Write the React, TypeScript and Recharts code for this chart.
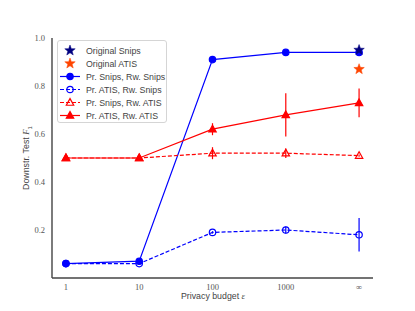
import { ComposedChart, Line, Scatter, XAxis, YAxis, ErrorBar } from 'recharts'

// categories on the x axis (privacy budget)
const xLabels = ['1', '10', '100', '1000', '∞']
const yTicks = [0.2, 0.4, 0.6, 0.8, 1.0]

// series values + symmetric error
const snipsSnips = [0.06, 0.07, 0.91, 0.94, 0.94]
const snipsSnipsErr = [0, 0.005, 0.01, 0.01, 0.015]
const atisSnips = [0.06, 0.06, 0.19, 0.2, 0.18]
const atisSnipsErr = [0, 0, 0.005, 0.015, 0.07]
const snipsAtis = [0.5, 0.5, 0.52, 0.52, 0.51]
const snipsAtisErr = [0, 0, 0.025, 0.02, 0.005]
const atisAtis = [0.5, 0.5, 0.62, 0.68, 0.73]
const atisAtisErr = [0, 0, 0.025, 0.09, 0.06]
const originalSnips = [0.95]
const originalAtis = [0.87]

const BLUE = '#0000ff'
const RED = '#ff0000'
const NAVY = '#000080'
const ORANGE = '#ff4500'

const toRows = (vals: number[], errs: number[]) => vals.map((y, i) => ({ x: i, y, err: errs[i] }))
const lastPoint = (vals: number[]) => vals.map((y) => ({ x: xLabels.length - 1, y }))

type Kind = 'circle' | 'ocircle' | 'tri' | 'otri' | 'star'

function Marker({ kind, color, cx, cy }: { kind: Kind; color: string; cx: number; cy: number }) {
  if (kind === 'circle' || kind === 'ocircle') {
    return (
      <circle cx={cx} cy={cy} r={3.2} fill={kind === 'circle' ? color : 'none'} stroke={color} strokeWidth={1.2} />
    )
  }
  if (kind === 'tri' || kind === 'otri') {
    const r = 3.9
    const pts = `${cx},${cy - r} ${cx - r * 0.95},${cy + r * 0.7} ${cx + r * 0.95},${cy + r * 0.7}`
    return <polygon points={pts} fill={kind === 'tri' ? color : 'none'} stroke={color} strokeWidth={1.2} />
  }
  const pts: string[] = []
  for (let i = 0; i < 10; i++) {
    const rad = i % 2 === 0 ? 5.5 : 2.3
    const a = -Math.PI / 2 + (i * Math.PI) / 5
    pts.push(`${cx + rad * Math.cos(a)},${cy + rad * Math.sin(a)}`)
  }
  return <polygon points={pts.join(' ')} fill={color} stroke={color} strokeWidth={0.5} />
}

const makeDot = (kind: Kind, color: string) => (p: any) =>
  <Marker key={`${kind}-${color}-${p.index}`} kind={kind} color={color} cx={p.cx} cy={p.cy} />

const legendItems: { label: string; kind: Kind; color: string; line: boolean; dash?: boolean }[] = [
  { label: 'Original Snips', kind: 'star', color: NAVY, line: false },
  { label: 'Original ATIS', kind: 'star', color: ORANGE, line: false },
  { label: 'Pr. Snips, Rw. Snips', kind: 'circle', color: BLUE, line: true },
  { label: 'Pr. ATIS, Rw. Snips', kind: 'ocircle', color: BLUE, line: true, dash: true },
  { label: 'Pr. Snips, Rw. ATIS', kind: 'otri', color: RED, line: true, dash: true },
  { label: 'Pr. ATIS, Rw. ATIS', kind: 'tri', color: RED, line: true },
]

const tickStyle = { fontSize: 8.5, fill: '#555', fontFamily: '"Liberation Serif", serif' }
const sans = '"Liberation Sans", Arial, sans-serif'

export default function App() {
  return (
    <div style={{ position: 'absolute', left: 0, top: 0, width: 415, height: 311, background: '#fff' }}>
      <ComposedChart width={415} height={311} margin={{ top: 38, right: 42, left: 12, bottom: 0 }}>
        <XAxis
          type="number"
          dataKey="x"
          domain={[-0.19, 4.19]}
          ticks={[0, 1, 2, 3, 4]}
          tickFormatter={(v: number) => xLabels[v]}
          allowDataOverflow
          height={33}
          tickSize={0}
          tickMargin={6}
          tick={tickStyle}
          axisLine={{ stroke: '#444', strokeWidth: 1.4 }}
          tickLine={false}
        />
        <YAxis
          type="number"
          domain={[0, 1]}
          ticks={yTicks}
          tickFormatter={(v: number) => v.toFixed(1)}
          allowDataOverflow
          width={40}
          tickSize={0}
          tickMargin={7}
          tick={tickStyle}
          axisLine={{ stroke: '#444', strokeWidth: 1.4 }}
          tickLine={false}
        />
        <Line
          data={toRows(snipsSnips, snipsSnipsErr)}
          dataKey="y"
          stroke={BLUE}
          strokeWidth={1.2}
          dot={makeDot('circle', BLUE)}
          isAnimationActive={false}
        >
          <ErrorBar dataKey="err" direction="y" width={0} stroke={BLUE} strokeWidth={1.2} />
        </Line>
        <Line
          data={toRows(atisSnips, atisSnipsErr)}
          dataKey="y"
          stroke={BLUE}
          strokeWidth={1.2}
          strokeDasharray="4 2"
          dot={makeDot('ocircle', BLUE)}
          isAnimationActive={false}
        >
          <ErrorBar dataKey="err" direction="y" width={0} stroke={BLUE} strokeWidth={1.2} />
        </Line>
        <Line
          data={toRows(snipsAtis, snipsAtisErr)}
          dataKey="y"
          stroke={RED}
          strokeWidth={1.2}
          strokeDasharray="4 2"
          dot={makeDot('otri', RED)}
          isAnimationActive={false}
        >
          <ErrorBar dataKey="err" direction="y" width={0} stroke={RED} strokeWidth={1.2} />
        </Line>
        <Line
          data={toRows(atisAtis, atisAtisErr)}
          dataKey="y"
          stroke={RED}
          strokeWidth={1.2}
          dot={makeDot('tri', RED)}
          isAnimationActive={false}
        >
          <ErrorBar dataKey="err" direction="y" width={0} stroke={RED} strokeWidth={1.2} />
        </Line>
        <Scatter
          data={lastPoint(originalSnips)}
          dataKey="y"
          shape={(p: any) => <Marker kind="star" color={NAVY} cx={p.cx} cy={p.cy} />}
          isAnimationActive={false}
        />
        <Scatter
          data={lastPoint(originalAtis)}
          dataKey="y"
          shape={(p: any) => <Marker kind="star" color={ORANGE} cx={p.cx} cy={p.cy} />}
          isAnimationActive={false}
        />
      </ComposedChart>

      {/* legend */}
      <div
        style={{
          position: 'absolute',
          left: 57,
          top: 40,
          width: 110,
          height: 83,
          boxSizing: 'border-box',
          border: '1px solid #d5d5d5',
          borderRadius: 3,
          background: 'rgba(255,255,255,0.85)',
          fontFamily: sans,
          fontSize: 8.8,
          color: '#444',
          paddingTop: 3,
        }}
      >
        {legendItems.map((it) => (
          <div key={it.label} style={{ display: 'flex', alignItems: 'center', height: 13 }}>
            <svg width={27} height={13} style={{ marginLeft: 1, flex: 'none' }}>
              {it.line && (
                <line
                  x1={1}
                  x2={21}
                  y1={6.5}
                  y2={6.5}
                  stroke={it.color}
                  strokeWidth={1.2}
                  strokeDasharray={it.dash ? '4 2' : undefined}
                />
              )}
              <Marker kind={it.kind} color={it.color} cx={11} cy={6.5} />
            </svg>
            <span style={{ whiteSpace: 'nowrap' }}>{it.label}</span>
          </div>
        ))}
      </div>

      {/* axis titles */}
      <div
        style={{
          position: 'absolute',
          left: 0,
          width: 426,
          top: 291,
          textAlign: 'center',
          fontFamily: sans,
          fontSize: 8.8,
          color: '#444',
        }}
      >
        Privacy budget <i style={{ fontFamily: '"Liberation Serif", serif' }}>ε</i>
      </div>
      <div
        style={{
          position: 'absolute',
          left: 27,
          top: 158,
          transform: 'translate(-50%, -50%) rotate(-90deg)',
          whiteSpace: 'nowrap',
          fontFamily: sans,
          fontSize: 8.8,
          color: '#444',
        }}
      >
        Downstr. Test <i style={{ fontFamily: '"Liberation Serif", serif' }}>F</i>
        <sub style={{ fontSize: 6 }}>1</sub>
      </div>
    </div>
  )
}
